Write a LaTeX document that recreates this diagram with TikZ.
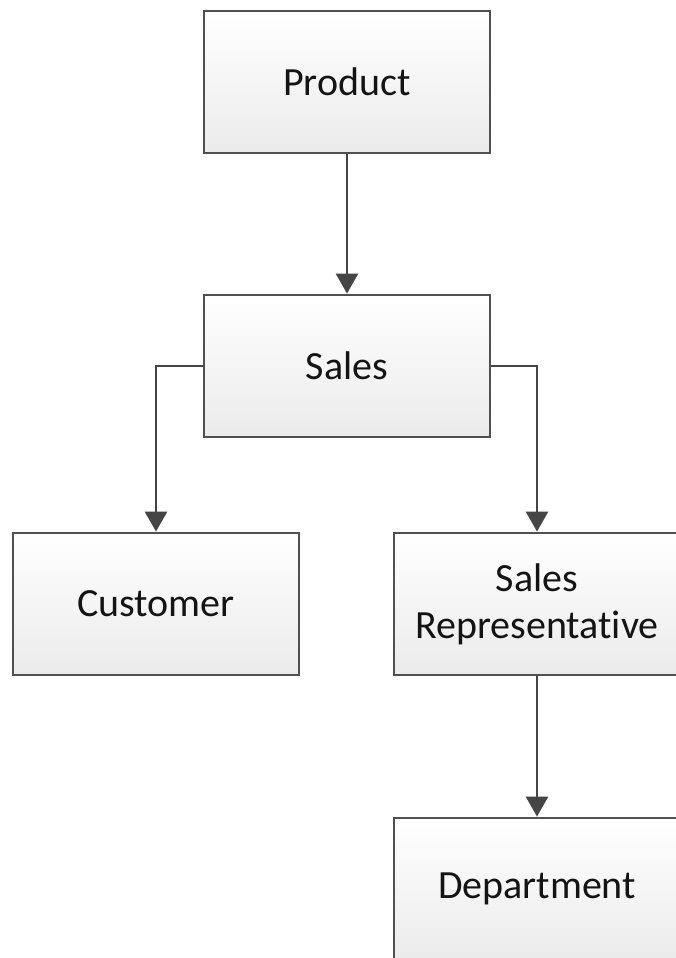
\documentclass[tikz,border=0pt]{standalone}
\usepackage{fontspec}
\setmainfont[Ligatures=NoCommon]{Carlito}
\usepackage{tikz}
\usetikzlibrary{arrows.meta, positioning}
\usepackage{xcolor}
\definecolor{boxline}{HTML}{505050}
\definecolor{arrline}{HTML}{454545}
\definecolor{boxtext}{HTML}{141414}
\definecolor{boxbottom}{HTML}{EBEBEB}

\begin{document}
\begin{tikzpicture}[
  x=1pt, y=1pt,
  entity/.style={draw=boxline, line width=2.8pt, rectangle,
    minimum width=286pt, minimum height=142pt, align=center,
    top color=white, bottom color=boxbottom, text=boxtext,
    font=\fontsize{40}{47}\selectfont},
  arr/.style={-{Triangle[width=22pt, length=20pt]}, arrline,
    line width=2.6pt}
]
  % Frame
  \useasboundingbox (0,0) rectangle (676,-958);
  \clip (0,0) rectangle (676,-958);

  % Top
  \node[entity] (product) at (347,-82) {Product};
  \node[entity] (sales) at (347,-366) {Sales};

  % Second level
  \node[entity] (customer) at (156,-604) {Customer};
  \node[entity] (salesrep) at (537,-604) {Sales\\Representative};

  % Bottom
  \node[entity] (department) at (537,-889) {Department};

  % Links
  \draw[arr] (product) -- (sales);
  \draw[arr] (sales.west) -| (customer.north);
  \draw[arr] (sales.east) -| (salesrep.north);
  \draw[arr] (salesrep) -- (department);
\end{tikzpicture}
\end{document}
